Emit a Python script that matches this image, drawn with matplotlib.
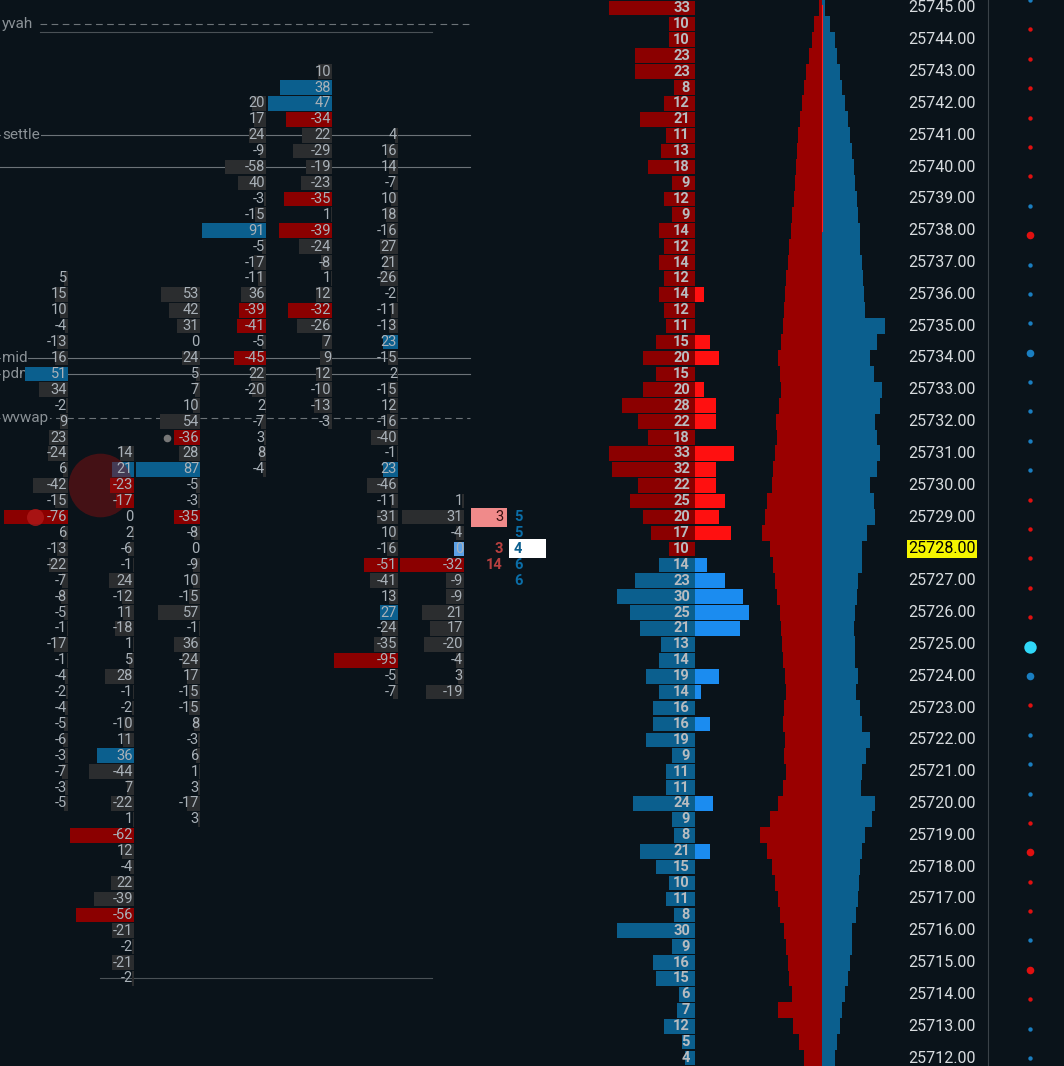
import matplotlib
matplotlib.use("Agg")
import matplotlib.pyplot as plt
import numpy as np

plt.rcParams['font.family'] = ['Roboto', 'DejaVu Sans']
BG = "#0a131a"
# ---- footprint columns: (top price, values) ----
col_tops = [25736.5, 25731.0, 25736.0, 25742.0, 25743.0, 25741.0, 25729.5]
col1 = [5,15,10,-4,-13,16,51,34,-2,9,23,-24,6,-42,-15,-76,6,-13,-22,-7,-8,-5,-1,-17,-1,-4,-2,-4,-5,-6,-3,-7,-3,-5]
col2 = [14,21,-23,-17,0,2,-6,-1,24,-12,11,-18,1,5,28,-1,-2,-10,11,36,-44,7,-22,1,-62,12,-4,22,-39,-56,-21,-2,-21,-2]
col3 = [53,42,31,0,24,5,7,10,54,-36,28,87,-5,-3,-35,-8,0,-9,10,-15,57,-1,36,-24,17,-15,-15,8,-3,6,1,3,-17,3]
col4 = [20,17,24,-9,-58,40,-3,-15,91,-5,-17,-11,36,-39,-41,-5,-45,22,-20,2,-7,3,8,-4]
col5 = [10,38,47,-34,22,-29,-19,-23,-35,1,-39,-24,-8,1,12,-32,-26,7,9,12,-10,-13,-3]
col6 = [4,16,14,-7,10,18,-16,27,21,-26,-2,-11,-13,23,-15,2,-15,12,-16,-40,-1,23,-46,-11,-31,10,-16,-51,-41,13,27,-24,-35,-95,-5,-7]
col7 = [1,31,-4,0,-32,-9,-9,21,17,-20,-4,3,-19]
columns = [col1, col2, col3, col4, col5, col6, col7]
# highlighted cells (index in column)
hl = [[6,15],[1,2,3,19,24,29],[9,11,14],[8,13,14,16],[1,2,3,8,10,15],[13,21,27,30,33],[3,4]]
col_right = [68, 134, 200, 266, 332, 398, 464]
col_width = 64

# ---- ladder ----
ladder_prices = [25745.0 - 0.5 * i for i in range(67)]
ladder_vol = [33,10,10,23,23,8,12,21,11,13,18,9,12,9,14,12,14,12,14,12,11,15,20,15,20,28,22,18,33,32,22,25,20,17,10,
              14,23,30,25,21,13,14,19,14,16,16,19,9,11,11,24,9,8,21,15,10,11,8,30,9,16,15,6,7,12,5,4]
ladder_delta = [0,0,0,0,0,0,0,0,0,0,0,0,0,0,0,0,0,0,3,0,0,5,8,0,3,7,7,0,13,7,7,10,8,12,0,
                4,10,16,18,15,0,0,8,2,0,5,0,0,0,0,6,0,0,5,0,0,0,0,0,0,0,0,0,0,0,0,0]
profile_sell = [3,8,10,13,16,18,20,22,24,25,26,27,28,30,31,33,34,36,37,38,39,41,44,42,41,43,46,45,47,49,50,55,57,60,52,
                49,47,45,42,41,40,39,37,36,38,39,37,38,36,39,44,52,62,55,50,47,44,42,38,36,34,33,30,44,29,23,18]
profile_buy = [3,8,13,15,18,20,23,26,28,30,32,33,35,36,38,38,40,41,42,43,63,55,48,52,60,58,53,55,58,55,48,52,53,45,40,
               40,36,35,33,32,33,33,36,34,38,40,48,44,40,39,53,50,43,40,38,37,36,34,30,30,28,26,23,20,18,15,13]

price_labels = [25745 - i for i in range(34)]
current_price = 25728.0
dot_colors = ["b","r","r","r","r","r","r","b","r","b","b","b","b","b","b","b","b","r","r","r","r","r","c","b","r","b","b","b","r","r","r","r","b","r","r","b","b"]
dot_big = [0,0,0,0,0,0,0,0,1,0,0,0,1,0,0,0,0,0,0,0,0,0,2,1,0,0,0,0,0,1,0,0,0,1,0,0,0]

levels = [("yvah", 25744.5, "dashed"), ("settle", 25741.0, "solid"), ("", 25740.0, "solid"),
          ("mid", 25734.0, "solid"), ("pdm", 25733.5, "solid"), ("wvwap", 25732.1, "dashed")]

fig = plt.figure(figsize=(10.64, 10.66), dpi=100, facecolor=BG)
ax = fig.add_axes([0, 0, 1, 1], facecolor=BG)
ax.set_xlim(0, 1064)
ax.set_ylim(25711.75, 25745.25)
ax.axis("off")

H = 0.46
TXT = "#a9b1b8"
for name, p, ls in levels:
    x0 = 40 if name == "yvah" else 0
    ax.plot([x0, 470], [p, p], color="#6c7378", lw=0.8, ls=(0, (6, 4)) if ls == "dashed" else "-", zorder=1)
    if name:
        ax.text(2, p, name, color="#8a9196", fontsize=11, va="center", ha="left",
                bbox=dict(facecolor=BG, edgecolor="none", pad=0.5), zorder=2)
ax.plot([40, 432], [25744.25, 25744.25], color="#4a5156", lw=0.8)
ax.plot([100, 432], [25714.5, 25714.5], color="#4a5156", lw=0.8)

for ci, vals in enumerate(columns):
    top = col_tops[ci]
    m = max(abs(v) for v in vals)
    for i, v in enumerate(vals):
        p = top - 0.5 * i
        w = abs(v) / m * col_width
        if i in hl[ci]:
            c = "#0b5f8e" if v > 0 else "#8b0000"
        else:
            c = "#2b2d2f"
        if ci == 6 and v == 0:
            c = "#5aa0e6"; w = 10
        ax.barh(p, w, left=col_right[ci] - w, height=H, color=c, zorder=3)
        ax.text(col_right[ci] - 1, p, str(v), color=TXT, fontsize=10.5, ha="right", va="center", zorder=5)

ax.scatter([100], [25730.0], s=2100, color="#8b1010", alpha=0.45, zorder=4, linewidths=0)
ax.scatter([35], [25729.0], s=150, color="#b01818", alpha=0.8, zorder=4, linewidths=0)
ax.scatter([167], [25731.5], s=20, color="#777", zorder=4)

ax.barh(25729.0, 36, left=471, height=H * 1.3, color="#f08a8a", zorder=3)
ax.text(504, 25729.0, "3", color="#3a1010", fontsize=10.5, ha="right", va="center", zorder=5)
ax.barh(25728.0, 37, left=509, height=H * 1.3, color="white", zorder=3)
ax.text(514, 25728.0, "4", color="#0b5f8e", fontsize=10.5, ha="left", va="center", weight="bold", zorder=5)
for p, s in [(25729.0, "5"), (25728.5, "5"), (25727.5, "6"), (25727.0, "6")]:
    ax.text(514, p, s, color="#0b6ea8", fontsize=10.5, ha="left", va="center", weight="bold")
ax.text(503, 25728.0, "3", color="#b84040", fontsize=10.5, ha="right", va="center", weight="bold")
ax.text(503, 25727.5, "14", color="#b84040", fontsize=10.5, ha="right", va="center", weight="bold")

for p, v, d in zip(ladder_prices, ladder_vol, ladder_delta):
    up = p >= current_price
    w = v * 2.6
    ax.barh(p, w, left=695 - w, height=H, color="#8b0000" if up else "#0b5f8e", zorder=3)
    if d:
        ax.barh(p, d * 3, left=695, height=H, color="#ff1010" if up else "#1b8cf0", zorder=3)
    ax.text(690, p, str(v), color="#b8bcc0", fontsize=10.5, ha="right", va="center", weight="bold", zorder=5)

for p, s, b in zip(ladder_prices, profile_sell, profile_buy):
    ax.barh(p, s, left=822 - s, height=0.5, color="#9a0000", zorder=2, linewidth=0)
    ax.barh(p, b, left=822, height=0.5, color="#0b5f8e", zorder=2, linewidth=0)
ax.plot([822, 822], [25745.1, 25738], color="#ff2020", lw=0.8, zorder=3)

for p in price_labels:
    if p == current_price:
        ax.text(908, p, f"{p:.2f}", color="black", fontsize=11.5, ha="left", va="center",
                bbox=dict(facecolor="#f5f500", edgecolor="none", pad=1))
    else:
        ax.text(908, p, f"{p:.2f}", color="#d8dcdf", fontsize=11.5, ha="left", va="center")
ax.plot([988, 988], [25711.75, 25745.25], color="#3a4248", lw=0.8)

ys = np.linspace(25745.25, 25712.0, len(dot_colors))
cmap = {"r": "#e01010", "b": "#1a7ec0", "c": "#30d8f8"}
for y, c, b in zip(ys, dot_colors, dot_big):
    ax.scatter([1030], [y], s=[10, 30, 80][b], color=cmap[c], zorder=4, linewidths=0)

fig.savefig("out.png", dpi=100, facecolor=BG)
